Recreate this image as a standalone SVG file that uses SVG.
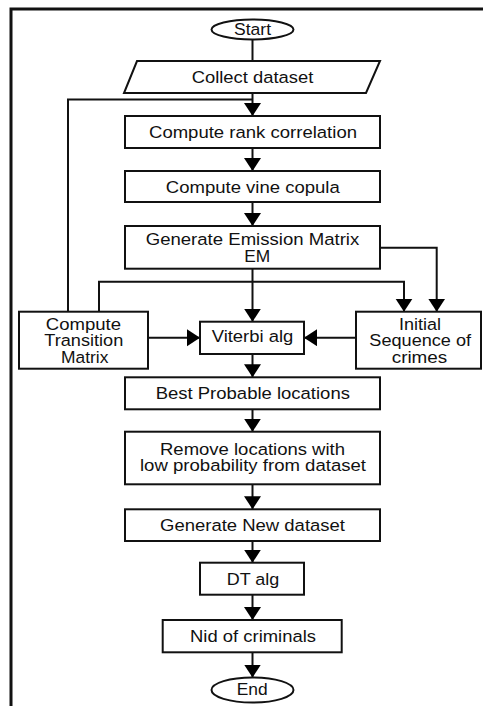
<svg xmlns="http://www.w3.org/2000/svg" width="483" height="706" viewBox="0 0 483 706">
<defs>
<marker id="ah" markerUnits="userSpaceOnUse" markerWidth="16" markerHeight="18" refX="13" refY="8.5" orient="auto">
<path d="M0,0 L13,8.5 L0,17 Z" fill="#000"/>
</marker>
<style>
.b{fill:#fff;stroke:#111;stroke-width:2}
.c{fill:none;stroke:#111;stroke-width:2}
.a{fill:none;stroke:#111;stroke-width:2;marker-end:url(#ah)}
text{font-family:"Liberation Sans",Arial,sans-serif;font-size:16.3px;fill:#111;text-anchor:middle}
</style>
</defs>
<rect width="483" height="706" fill="#fff"/>
<path d="M11,712 V9 H490" fill="none" stroke="#111" stroke-width="3"/>
<g id="connectors">
<line class="c" x1="252.5" y1="39.5" x2="252.5" y2="61"/>
<line class="a" x1="252.5" y1="93" x2="252.5" y2="116"/>
<polyline class="c" points="68,311.7 68,99.5 252.5,99.5"/>
<line class="a" x1="252.5" y1="148" x2="252.5" y2="171"/>
<line class="a" x1="252.5" y1="202" x2="252.5" y2="226"/>
<line class="a" x1="252.5" y1="268.7" x2="252.5" y2="321.7"/>
<polyline class="a" points="380,247.7 436.7,247.7 436.7,311.7"/>
<polyline class="a" points="99,311.7 99,281.7 404,281.7 404,311.7"/>
<line class="a" x1="148" y1="337.7" x2="200" y2="337.7"/>
<line class="a" x1="356" y1="337.7" x2="304" y2="337.7"/>
<line class="a" x1="252.5" y1="354" x2="252.5" y2="377.3"/>
<line class="a" x1="252.5" y1="409.3" x2="252.5" y2="431.7"/>
<line class="a" x1="252.5" y1="484.3" x2="252.5" y2="509.3"/>
<line class="a" x1="252.5" y1="541" x2="252.5" y2="562.7"/>
<line class="a" x1="252.5" y1="594.7" x2="252.5" y2="620"/>
<line class="a" x1="252.5" y1="652.3" x2="252.5" y2="677.5"/>
</g>
<g id="start">
<ellipse class="b" cx="252.5" cy="29.5" rx="41" ry="10"/>
<text x="252.5" y="35" textLength="37" lengthAdjust="spacingAndGlyphs">Start</text>
</g>
<g id="collect">
<polygon class="b" points="137,61 380,61 366,93 124,93"/>
<text x="252.5" y="82.7" textLength="121.6" lengthAdjust="spacingAndGlyphs">Collect dataset</text>
</g>
<g id="rank">
<rect class="b" x="125" y="116" width="255" height="32"/>
<text x="253" y="138.4" textLength="208" lengthAdjust="spacingAndGlyphs">Compute rank correlation</text>
</g>
<g id="vine">
<rect class="b" x="125" y="171" width="255" height="31"/>
<text x="252.8" y="193.3" textLength="174" lengthAdjust="spacingAndGlyphs">Compute vine copula</text>
</g>
<g id="emission">
<rect class="b" x="125" y="226" width="255" height="42.7"/>
<text x="252.5" y="245.3" textLength="213.6" lengthAdjust="spacingAndGlyphs">Generate Emission Matrix</text>
<text x="257.3" y="262.4" textLength="26" lengthAdjust="spacingAndGlyphs">EM</text>
</g>
<g id="transition">
<rect class="b" x="19" y="311.7" width="129" height="57"/>
<text x="83.4" y="329.5" textLength="75.3" lengthAdjust="spacingAndGlyphs">Compute</text>
<text x="83.8" y="346" textLength="79" lengthAdjust="spacingAndGlyphs">Transition</text>
<text x="84.7" y="362.7" textLength="47.3" lengthAdjust="spacingAndGlyphs">Matrix</text>
</g>
<g id="viterbi">
<rect class="b" x="200" y="321.7" width="104" height="32.3"/>
<text x="252.5" y="341.7" textLength="81.6" lengthAdjust="spacingAndGlyphs">Viterbi alg</text>
</g>
<g id="initial">
<rect class="b" x="356" y="311.7" width="125" height="57"/>
<text x="420" y="329.5" textLength="42" lengthAdjust="spacingAndGlyphs">Initial</text>
<text x="420.2" y="346" textLength="101.7" lengthAdjust="spacingAndGlyphs">Sequence of</text>
<text x="419.5" y="362.7" textLength="55.6" lengthAdjust="spacingAndGlyphs">crimes</text>
</g>
<g id="best">
<rect class="b" x="125" y="377.3" width="255" height="32"/>
<text x="252.8" y="399.3" textLength="194.3" lengthAdjust="spacingAndGlyphs">Best Probable locations</text>
</g>
<g id="remove">
<rect class="b" x="125" y="431.7" width="255" height="52.6"/>
<text x="252.5" y="454.5" textLength="185" lengthAdjust="spacingAndGlyphs">Remove locations with</text>
<text x="253" y="471" textLength="226" lengthAdjust="spacingAndGlyphs">low probability from dataset</text>
</g>
<g id="newdataset">
<rect class="b" x="125" y="509.3" width="255" height="31.7"/>
<text x="252.5" y="531" textLength="185" lengthAdjust="spacingAndGlyphs">Generate New dataset</text>
</g>
<g id="dt">
<rect class="b" x="200" y="562.7" width="104" height="32"/>
<text x="253" y="585" textLength="52.6" lengthAdjust="spacingAndGlyphs">DT alg</text>
</g>
<g id="nid">
<rect class="b" x="162.7" y="620" width="179" height="32.3"/>
<text x="253" y="642.3" textLength="126" lengthAdjust="spacingAndGlyphs">Nid of criminals</text>
</g>
<g id="end">
<ellipse class="b" cx="252.5" cy="690" rx="41" ry="12.5"/>
<text x="252.2" y="694.5" textLength="31" lengthAdjust="spacingAndGlyphs">End</text>
</g>
</svg>
